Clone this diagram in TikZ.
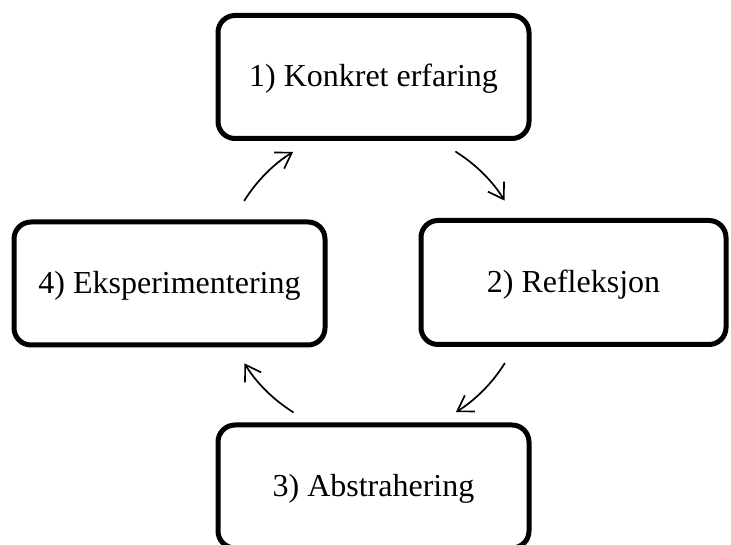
\documentclass[tikz,border=0pt]{standalone}
\usepackage{fontspec}
\setmainfont{Liberation Serif}
\usetikzlibrary{arrows.meta,calc}

\begin{document}
\begin{tikzpicture}[
  x=1pt, y=1pt,
  stage/.style={draw=black, line width=5pt, rounded corners=17pt,
    minimum width=311pt, minimum height=123pt, align=center,
    font=\fontsize{32}{38}\selectfont, inner sep=0pt,
    text height=24pt, text depth=4pt},
  cyclearrow/.style={line width=1.7pt, line cap=round,
    -{Straight Barb[length=15pt, width=19pt, line width=1.7pt]}}
]
  % page area
  \clip (0,0) rectangle (731,545);

  % the four stages of the learning cycle
  \node[stage] (s1) at (373.5,468)   {1) Konkret erfaring};
  \node[stage, minimum width=305pt, minimum height=124pt] (s2) at (573.5,262.5) {2) Refleksjon};
  \node[stage] (s3) at (373.5,58.5)  {3) Abstrahering};
  \node[stage] (s4) at (169.5,261.5) {4) Eksperimentering};

  % arcs of one circle around the middle of the cycle
  \coordinate (mid) at (374.5,263);
  \def\r{153.5pt}
  \coordinate (a12) at ($(mid)+(58:\r)$);
  \coordinate (a23) at ($(mid)+(-32:\r)$);
  \coordinate (a34) at ($(mid)+(-122:\r)$);
  \coordinate (a41) at ($(mid)+(148:\r)$);

  \draw[cyclearrow] (a12) arc[start angle=58,   end angle=32,   radius=\r];
  \draw[cyclearrow] (a23) arc[start angle=-32,  end angle=-58,  radius=\r];
  \draw[cyclearrow] (a34) arc[start angle=-122, end angle=-148, radius=\r];
  \draw[cyclearrow] (a41) arc[start angle=148,  end angle=122,  radius=\r];
\end{tikzpicture}
\end{document}
